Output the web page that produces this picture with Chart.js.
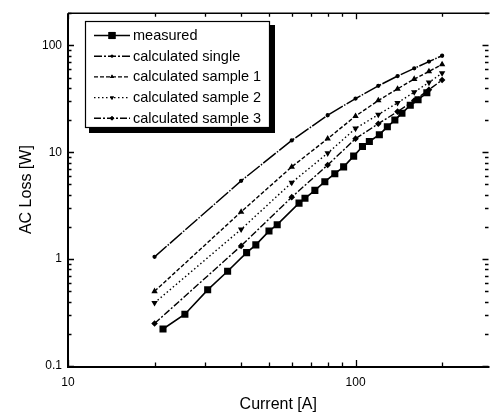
<!DOCTYPE html>
<html>
<head>
<meta charset="utf-8">
<script src="https://cdn.jsdelivr.net/npm/chart.js@4/dist/chart.umd.min.js"></script>
<style>
html,body{margin:0;padding:0;background:#fff;}
#wrap{width:494px;height:414px;}
</style>
</head>
<body>
<div id="wrap"><canvas id="c" width="494" height="414"></canvas></div>
<script>
// ---- data ----
const currentCalc = [20, 40, 60, 80, 100, 120, 140, 160, 180, 200];
const calcSingle  = [1.05, 5.4, 12.9, 22.2, 31.8, 41.8, 51.6, 61, 70.5, 80];
const calcSample1 = [0.50, 2.77, 7.3, 13.4, 21.8, 30.5, 39.2, 48.4, 57, 66.4];
const calcSample2 = [0.39, 1.90, 5.2, 9.8, 16.7, 22.5, 29, 36.5, 45, 55];
const calcSample3 = [0.25, 1.33, 3.8, 7.6, 13.4, 18.5, 24, 30.5, 38.5, 47.4];

const currentMeas = [21.4, 25.5, 30.6, 35.9, 41.8, 45, 50, 53.4, 63.6, 66.7, 72.2, 78.2, 84.7, 90.9, 98.5, 105.7, 111.7, 121, 129, 137, 145, 155, 165, 177];
const measured    = [0.222, 0.305, 0.516, 0.77, 1.15, 1.36, 1.83, 2.10, 3.34, 3.71, 4.40, 5.3, 6.3, 7.3, 9.2, 11.3, 12.6, 14.6, 17.3, 20, 23.2, 27.5, 31, 36];

const seriesNames = ['measured', 'calculated single', 'calculated sample 1', 'calculated sample 2', 'calculated sample 3'];

const xTickValues = [10, 20, 30, 40, 50, 60, 70, 80, 90, 100, 200];
const xTickLabels = [10, 100];
const yTickValues = [0.1, 0.2, 0.3, 0.4, 0.5, 0.6, 0.7, 0.8, 0.9, 1, 2, 3, 4, 5, 6, 7, 8, 9, 10, 20, 30, 40, 50, 60, 70, 80, 90, 100, 200];
const yTickLabels = [0.1, 1, 10, 100];

const xTitle = 'Current [A]';
const yTitle = 'AC Loss [W]';

// ---- build ----
const pts = (xs, ys) => xs.map((x, i) => ({x: x, y: ys[i]}));
const FONT = '"Liberation Sans", Arial, sans-serif';

const datasets = [
  {label: seriesNames[0], data: pts(currentMeas, measured), borderColor: '#000', backgroundColor: '#000',
   borderWidth: 1.6, pointStyle: 'rect', pointRadius: 5, pointBorderWidth: 0, borderDash: []},
  {label: seriesNames[1], data: pts(currentCalc, calcSingle), borderColor: '#000', backgroundColor: '#000',
   borderWidth: 1.5, pointStyle: 'circle', pointRadius: 1.4, borderDash: [16, 1.5, 1.5, 1.5]},
  {label: seriesNames[2], data: pts(currentCalc, calcSample1), borderColor: '#000', backgroundColor: '#000',
   borderWidth: 1.4, pointStyle: 'triangle', pointRadius: 2.3, borderDash: [4, 2]},
  {label: seriesNames[3], data: pts(currentCalc, calcSample2), borderColor: '#000', backgroundColor: '#000',
   borderWidth: 1.4, pointStyle: 'triangle', pointRotation: 180, pointRadius: 2.3, borderDash: [1.5, 2.5]},
  {label: seriesNames[4], data: pts(currentCalc, calcSample3), borderColor: '#000', backgroundColor: '#000',
   borderWidth: 1.4, pointStyle: 'rectRot', pointRadius: 2.3, borderDash: [7, 2, 2, 2]}
];
datasets.forEach(d => { d.fill = false; d.tension = 0; d.pointBorderColor = '#000'; d.pointBackgroundColor = '#000'; });

const near = (a, b) => Math.abs(a - b) < 1e-9 * Math.max(1, Math.abs(b));

const frame = {
  id: 'frame',
  afterDraw(chart) {
    const ctx = chart.ctx;
    const {left, right, top, bottom} = chart.chartArea;
    const xs = chart.scales.x, ys = chart.scales.y;
    ctx.save();
    ctx.strokeStyle = '#000';
    ctx.lineCap = 'butt';
    // axes lines
    ctx.lineWidth = 2;
    ctx.beginPath();
    ctx.moveTo(left, top); ctx.lineTo(left, bottom + 1); ctx.lineTo(right + 1, bottom + 1);
    ctx.stroke();
    ctx.lineWidth = 1.5;
    ctx.beginPath(); ctx.moveTo(left, top); ctx.lineTo(right + 1, top); ctx.stroke();
    // ticks
    ctx.lineWidth = 1.3;
    xTickValues.forEach(v => {
      const px = Math.round(xs.getPixelForValue(v)) + 0.5;
      const major = xTickLabels.some(l => near(l, v));
      const len = major ? 6 : 3.5;
      ctx.beginPath();
      ctx.moveTo(px, bottom); ctx.lineTo(px, bottom - len);
      ctx.moveTo(px, top); ctx.lineTo(px, top + len);
      ctx.stroke();
    });
    yTickValues.forEach(v => {
      const py = Math.round(ys.getPixelForValue(v)) + 0.5;
      const major = yTickLabels.some(l => near(l, v));
      const len = major ? 6 : 3.5;
      ctx.beginPath();
      ctx.moveTo(left, py); ctx.lineTo(left + len, py);
      ctx.moveTo(right, py); ctx.lineTo(right - len, py);
      ctx.stroke();
    });
    // legend
    const bx = 85, by = 21, bw = 185, bh = 107;
    ctx.fillStyle = '#000';
    ctx.fillRect(bx + 4, by + 4, bw + 1, bh + 1);
    ctx.fillStyle = '#fff';
    ctx.fillRect(bx, by, bw, bh);
    ctx.lineWidth = 1.2;
    ctx.strokeRect(bx + 0.5, by + 0.5, bw - 1, bh - 1);
    ctx.font = '14.5px ' + FONT;
    ctx.textBaseline = 'middle';
    ctx.textAlign = 'left';
    chart.data.datasets.forEach((d, i) => {
      const yy = 35.5 + i * 20.7;
      ctx.save();
      ctx.strokeStyle = '#000';
      ctx.lineWidth = d.borderWidth;
      ctx.setLineDash(i === 1 ? [8, 2, 2, 2] : (d.borderDash || []));
      ctx.beginPath(); ctx.moveTo(94, yy); ctx.lineTo(130, yy); ctx.stroke();
      ctx.setLineDash([]);
      ctx.fillStyle = '#000';
      Chart.helpers.drawPoint(ctx, {pointStyle: d.pointStyle, radius: d.pointRadius, rotation: d.pointRotation || 0, borderWidth: 0}, 112, yy);
      ctx.fill();
      ctx.restore();
      ctx.fillStyle = '#000';
      ctx.fillText(d.label, 133, yy + 0.5);
    });
    ctx.restore();
  }
};

new Chart(document.getElementById('c'), {
  type: 'line',
  data: {datasets: datasets},
  options: {
    responsive: false,
    animation: false,
    events: [],
    layout: {padding: {top: 10, right: 1, left: 0, bottom: 0}},
    plugins: {legend: {display: false}, tooltip: {enabled: false}},
    scales: {
      x: {
        type: 'logarithmic', min: 10, max: 290, position: 'bottom',
        grid: {display: false, drawTicks: false},
        border: {display: false},
        afterBuildTicks: s => { s.ticks = xTickValues.map(v => ({value: v})); },
        ticks: {
          autoSkip: false, maxRotation: 0, padding: 9, color: '#000',
          font: {family: FONT, size: 12},
          callback: v => (xTickLabels.some(l => near(l, v)) ? String(v) : '')
        },
        title: {display: true, text: xTitle, color: '#000', font: {family: FONT, size: 16}, padding: {top: 3, bottom: 0}},
        afterFit: s => { s.height = 48; }
      },
      y: {
        type: 'logarithmic', min: 0.1, max: 200,
        grid: {display: false, drawTicks: false},
        border: {display: false},
        afterBuildTicks: s => { s.ticks = yTickValues.map(v => ({value: v})); },
        ticks: {
          autoSkip: false, padding: 6, color: '#000',
          font: {family: FONT, size: 12},
          callback: v => (yTickLabels.some(l => near(l, v)) ? String(v) : '')
        },
        title: {display: true, text: yTitle, color: '#000', font: {family: FONT, size: 16}, padding: {top: 17, bottom: 0}},
        afterFit: s => { s.width = 68; }
      }
    }
  },
  plugins: [frame]
});
</script>
</body>
</html>
